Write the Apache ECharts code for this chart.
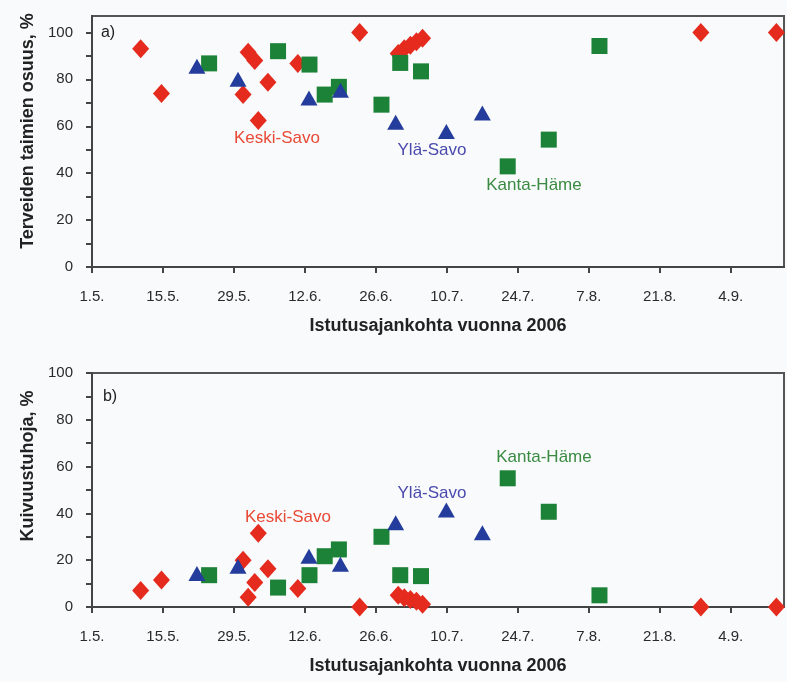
<!DOCTYPE html>
<html lang="fi">
<head>
<meta charset="UTF-8">
<title>Istutusajankohta</title>
<script src="https://cdn.jsdelivr.net/npm/echarts@6/dist/echarts.min.js"></script>
<style>
  html, body { margin:0; padding:0; background:#f8fafb; }
  #chart { width:787px; height:682px; }
</style>
</head>
<body>
<div id="chart"></div>
<script>
// days counted from 1.5.2006
var xTickDays = [0, 14, 28, 42, 56, 70, 84, 98, 112, 126];
var xTickLabels = ['1.5.', '15.5.', '29.5.', '12.6.', '26.6.', '10.7.', '24.7.', '7.8.', '21.8.', '4.9.'];
var yTickValues = [0, 20, 40, 60, 80, 100];
var yMinorTicks = [0, 10, 20, 30, 40, 50, 60, 70, 80, 90, 100];

// Keski-Savo
var ksDays    = [9.6, 13.7, 29.8, 30.8, 32.1, 32.8, 34.7, 40.6, 52.8, 60.4, 61.6, 62.8, 64, 65.2, 120.1, 135];
var ksHealthy = [93, 74, 73.5, 91.5, 88, 62.5, 78.8, 86.8, 100, 91, 93, 94.5, 96, 97.5, 100, 100];
var ksDrought = [7, 11.5, 20, 4.2, 10.5, 31.5, 16.3, 7.9, 0, 5, 4, 3.2, 2.5, 1.2, 0, 0];
// Ylä-Savo
var ysDays    = [20.7, 28.8, 42.8, 49, 59.9, 69.9, 77];
var ysHealthy = [85.6, 80, 72, 75.3, 61.7, 57.8, 65.7];
var ysDrought = [14.3, 17.4, 21.7, 18.3, 36, 41.4, 31.7];
// Kanta-Häme
var khDays    = [23.1, 36.7, 42.9, 45.9, 48.7, 57.1, 60.8, 64.9, 82, 90.1, 100.1];
var khHealthy = [86.8, 92, 86.3, 73.5, 76.8, 69.2, 87, 83.4, 42.9, 54.3, 94.2];
var khDrought = [13.6, 8.3, 13.6, 21.7, 24.6, 30, 13.6, 13.2, 55, 40.7, 5];

var RED = '#e52a1e', GREEN = '#1c8237', BLUE = '#243d9c';
var FONT = '"Liberation Sans", Arial, sans-serif';

function pairs(xs, ys) {
    return xs.map(function (x, i) { return [x, ys[i]]; });
}

function xAxes(gridIndex) {
    return [{
        type: 'value', gridIndex: gridIndex, min: 0, max: 136.5,
        splitLine: { show: false },
        axisLine: { lineStyle: { color: '#444', width: 2 } },
        axisTick: { customValues: xTickDays, length: 6, lineStyle: { color: '#444', width: 2 } },
        axisLabel: {
            customValues: xTickDays, margin: 22, color: '#2a2a2a', fontSize: 15, fontFamily: FONT,
            formatter: function (v) { return xTickLabels[xTickDays.indexOf(v)]; }
        },
        name: 'Istutusajankohta vuonna 2006', nameLocation: 'middle', nameGap: 50,
        nameTextStyle: { color: '#222', fontSize: 18, fontWeight: 'bold', fontFamily: FONT }
    }, {
        type: 'value', gridIndex: gridIndex, min: 0, max: 136.5,
        splitLine: { show: false }, axisLine: { show: false }, axisLabel: { show: false },
        axisTick: { customValues: xTickDays, inside: true, length: 4, lineStyle: { color: '#444', width: 2 } }
    }];
}

function yAxes(gridIndex, max) {
    return [{
        type: 'value', gridIndex: gridIndex, min: 0, max: max,
        splitLine: { show: false },
        axisLine: { lineStyle: { color: '#444', width: 2 } },
        axisTick: { customValues: yMinorTicks, length: 6, lineStyle: { color: '#444', width: 2 } },
        axisLabel: { customValues: yTickValues, margin: 19, color: '#2a2a2a', fontSize: 15, fontFamily: FONT }
    }, {
        type: 'value', gridIndex: gridIndex, min: 0, max: max,
        splitLine: { show: false }, axisLine: { show: false }, axisLabel: { show: false },
        axisTick: { customValues: yMinorTicks, inside: true, length: 5, lineStyle: { color: '#444', width: 2 } }
    }];
}

function panelSeries(axisIdx, ksVals, ysVals, khVals) {
    var base = { type: 'scatter', xAxisIndex: axisIdx, yAxisIndex: axisIdx, silent: true };
    return [
        Object.assign({ name: 'Keski-Savo', data: pairs(ksDays, ksVals), symbol: 'diamond',
            symbolSize: [17, 19], itemStyle: { color: RED, opacity: 1 } }, base),
        Object.assign({ name: 'Kanta-Häme', data: pairs(khDays, khVals), symbol: 'rect',
            symbolSize: 16, itemStyle: { color: GREEN, opacity: 1 } }, base),
        Object.assign({ name: 'Ylä-Savo', data: pairs(ysDays, ysVals), symbol: 'triangle',
            symbolSize: [17, 15], itemStyle: { color: BLUE, opacity: 1 } }, base)
    ];
}

function label(text, x, y, color, font, rotation) {
    return {
        type: 'text', x: x, y: y, z: 10, rotation: rotation || 0,
        style: { text: text, fill: color, font: font || ('16px ' + FONT), align: 'center', verticalAlign: 'middle' }
    };
}

var chart = echarts.init(document.getElementById('chart'));
chart.setOption({
    backgroundColor: '#f8fafb',
    animation: false,
    grid: [
        { left: 92, top: 16, width: 692, height: 251, show: true, borderColor: '#555', borderWidth: 2 },
        { left: 92, top: 373, width: 692, height: 234, show: true, borderColor: '#555', borderWidth: 2 }
    ],
    xAxis: xAxes(0).concat(xAxes(1)),
    yAxis: yAxes(0, 107).concat(yAxes(1, 100)),
    series: panelSeries(0, ksHealthy, ysHealthy, khHealthy)
        .concat(panelSeries(2, ksDrought, ysDrought, khDrought)),
    graphic: [
        label('a)', 108, 33, '#222'),
        label('b)', 110, 397, '#222'),
        label('Terveiden taimien osuus, %', 28, 131, '#222', 'bold 18px ' + FONT, Math.PI / 2),
        label('Kuivuustuhoja, %', 28, 466, '#222', 'bold 18px ' + FONT, Math.PI / 2),
        label('Keski-Savo', 277, 138, '#e84a35', '17px ' + FONT),
        label('Ylä-Savo', 432, 150, '#4a4aae', '17px ' + FONT),
        label('Kanta-Häme', 534, 185, '#3a8a42', '17px ' + FONT),
        label('Keski-Savo', 288, 517, '#e84a35', '17px ' + FONT),
        label('Ylä-Savo', 432, 493, '#4a4aae', '17px ' + FONT),
        label('Kanta-Häme', 544, 457, '#3a8a42', '17px ' + FONT)
    ]
});
</script>
</body>
</html>
